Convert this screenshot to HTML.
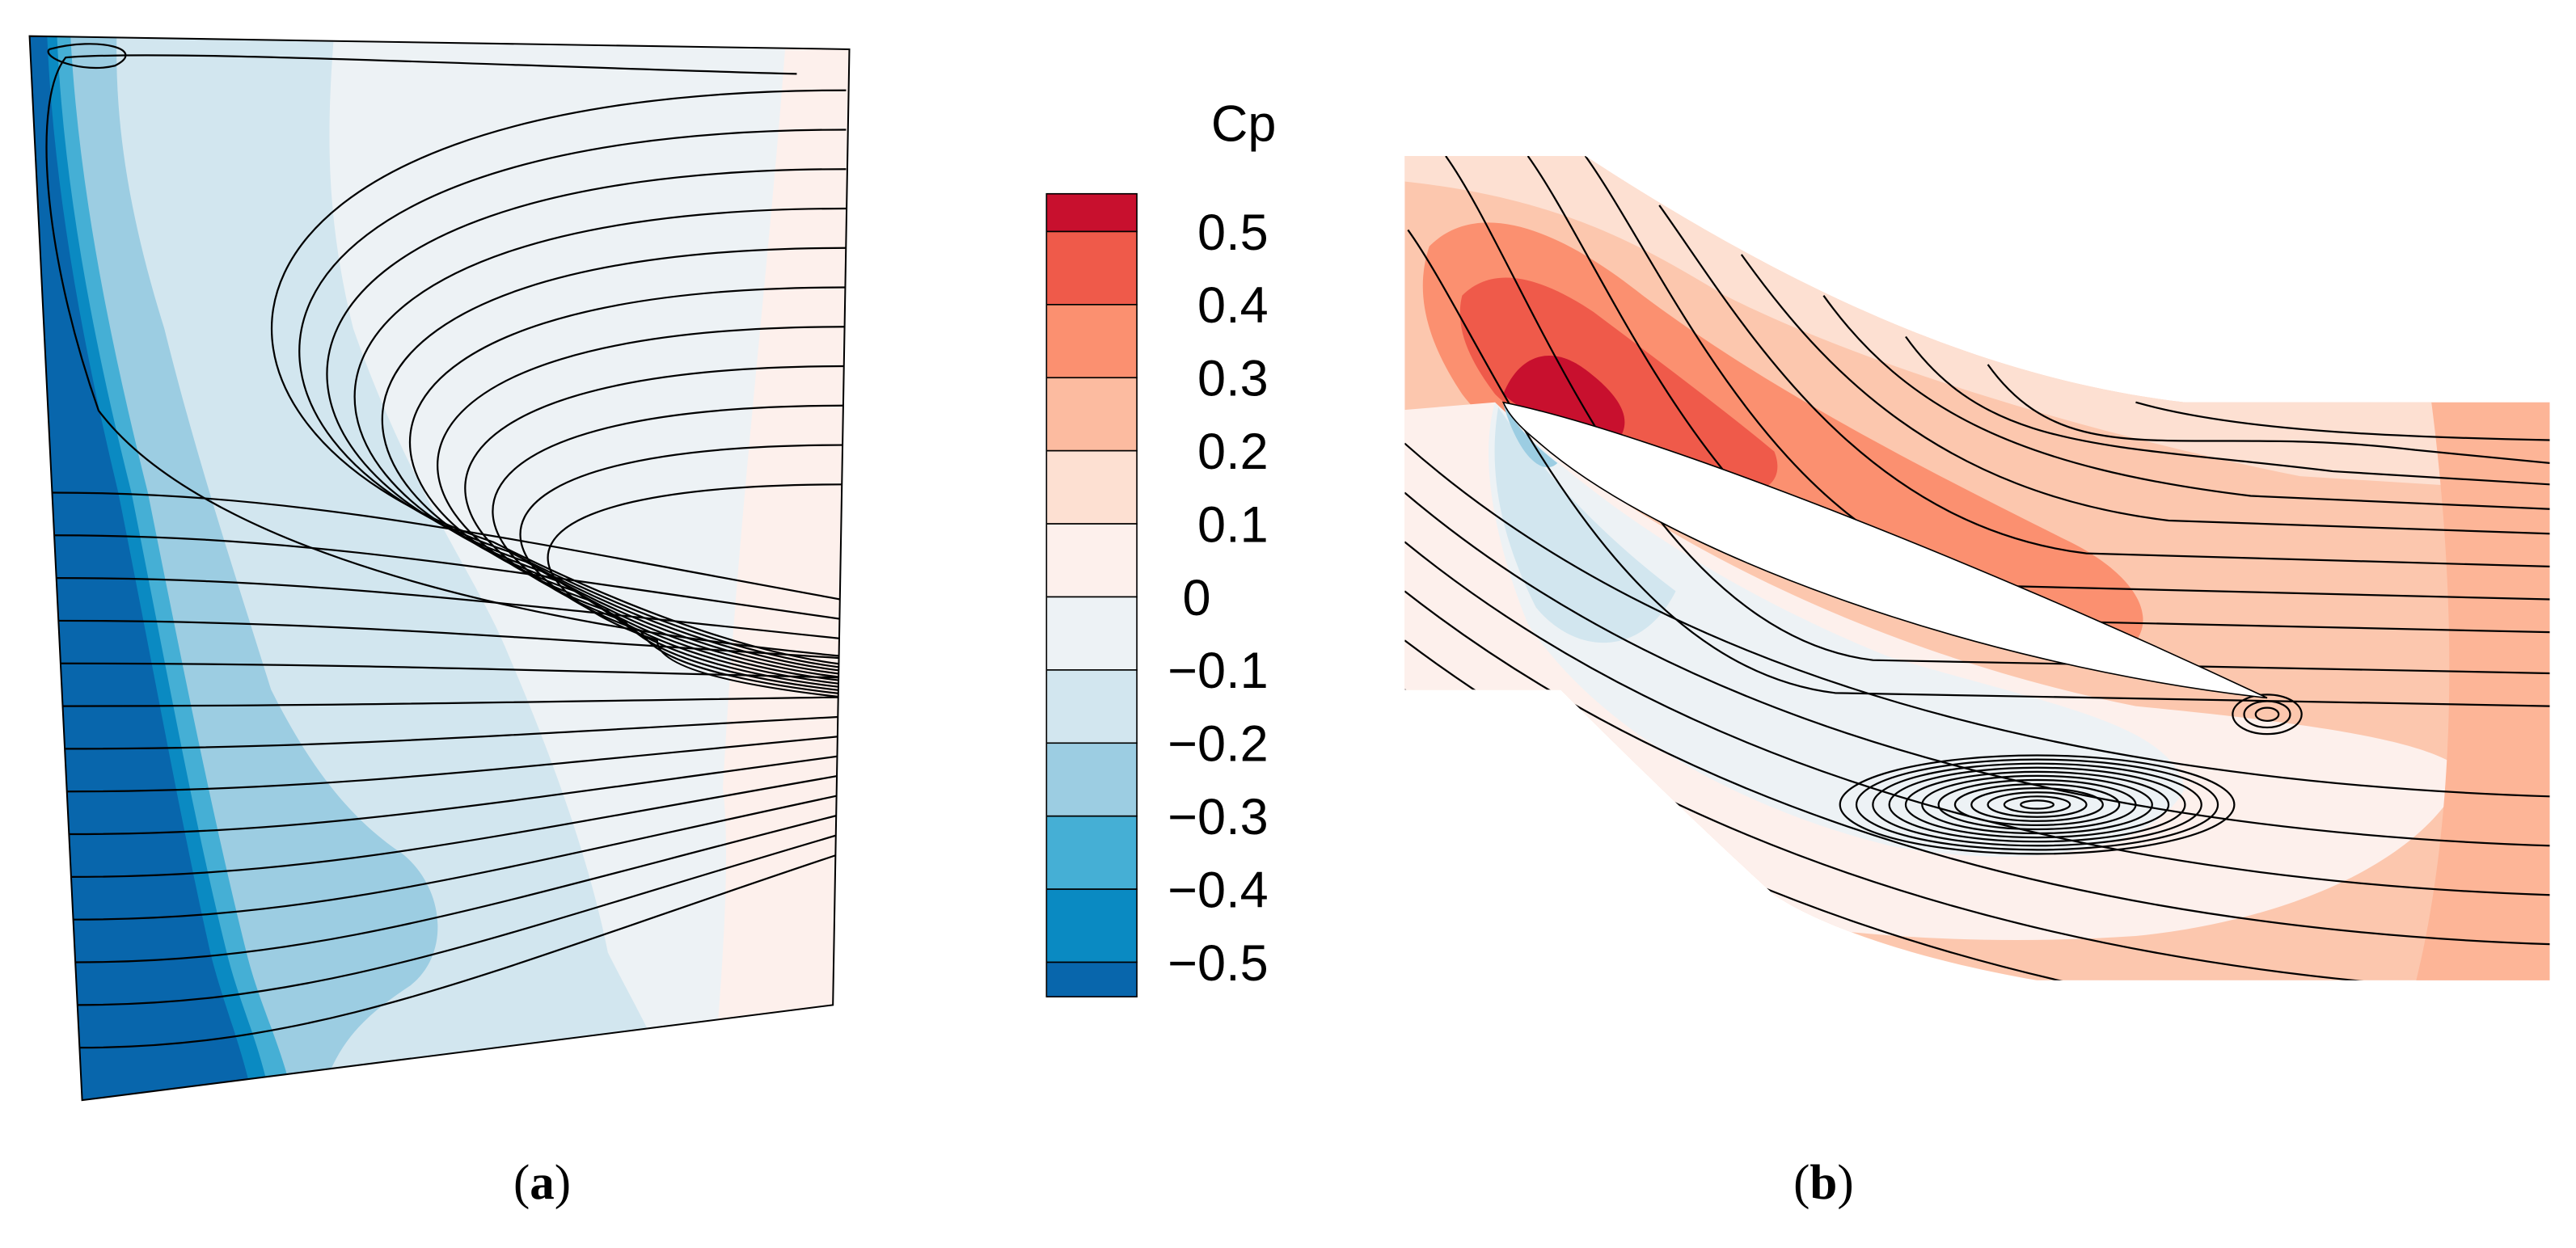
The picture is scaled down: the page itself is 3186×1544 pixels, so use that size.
<!DOCTYPE html>
<html><head><meta charset="utf-8"><style>
html,body{margin:0;padding:0;background:#fff;}
svg{display:block;}
</style></head><body>
<svg id="fig" width="3186" height="1544" viewBox="0 0 1568 760" preserveAspectRatio="none" xmlns="http://www.w3.org/2000/svg">
<defs>
<clipPath id="clipA"><polygon points="18,22 517,30 507,612 50,670"/></clipPath>
<clipPath id="clipB"><path d="M855,95 L965,95 C1080,170 1200,230 1330,245 L1552,245 L1552,597 L1240,597 C1170,585 1110,565 1080,545 C1020,490 970,440 950,420 L855,420 Z"/></clipPath>
</defs>

<g id="panelA" clip-path="url(#clipA)">
<rect x="0" y="0" width="530" height="700" fill="#edf2f5"/>
<path d="M480,0 L530,0 L530,700 L430,700 C440,600 445,520 440,480 C450,300 470,150 480,0 Z" fill="#fdf0ec"/>
<path d="M0,0 L205,0 C200,60 195,120 215,200 C250,300 290,350 310,400 C340,470 360,530 370,580 C390,620 410,650 420,700 L0,700 Z" fill="#d2e6ef"/>
<path d="M0,0 L72,0 C68,60 75,120 100,200 C120,280 140,340 165,420 C190,470 215,500 245,520 C270,540 275,580 250,600 C220,620 195,640 190,700 L0,700 Z" fill="#9ccde2"/>
<path d="M0,0 L42,0 C45,100 65,200 90,300 C110,400 130,500 150,580 C160,620 175,640 185,700 L0,700 Z" fill="#45afd5"/>
<path d="M0,0 L34,0 C36,100 55,200 80,300 C100,400 118,500 138,580 C148,620 162,640 170,700 L0,700 Z" fill="#0a8ac2"/>
<path d="M0,0 L28,0 C30,100 48,200 72,300 C92,400 110,500 128,580 C138,620 150,640 160,700 L0,700 Z" fill="#0866ac"/>
<g id="streamA" fill="none" stroke="#000" stroke-width="1.1"></g>
</g>
<polygon points="18,22 517,30 507,612 50,670" fill="none" stroke="#000" stroke-width="1"/>

<g id="panelB" clip-path="url(#clipB)">
<rect x="850" y="90" width="710" height="520" fill="#fcc7ae"/>
<path d="M850,90 L1000,90 C1100,160 1250,215 1350,235 L1560,235 L1560,300 L1400,290 C1300,270 1150,230 1050,180 C1000,150 950,120 850,110 Z" fill="#fde0d2"/>
<path d="M870,150 C900,120 950,140 1000,180 C1080,240 1180,290 1260,330 C1300,350 1320,380 1290,400 C1230,390 1150,360 1060,320 C980,290 920,280 890,240 C870,210 860,180 870,150 Z" fill="#fb9070"/>
<path d="M890,180 C910,160 940,170 970,190 C1010,220 1050,250 1080,275 C1090,300 1060,310 1020,290 C970,270 930,260 910,240 C895,220 885,200 890,180 Z" fill="#ef5a4a"/>
<path d="M915,240 C925,215 945,210 965,225 C985,240 995,255 985,268 C965,265 935,258 915,240 Z" fill="#c8102e"/>
<path d="M850,250 L910,245 C1000,330 1150,400 1300,430 C1400,440 1480,450 1500,470 C1480,520 1400,560 1300,570 C1150,580 1000,560 850,500 Z" fill="#fdf0ec"/>
<path d="M910,245 C960,300 1050,360 1150,400 C1250,430 1320,440 1330,480 C1310,520 1230,530 1150,515 C1050,490 970,440 930,380 C910,330 900,280 910,245 Z" fill="#edf2f5"/>
<path d="M912,248 C940,290 980,330 1020,360 C1000,400 960,400 935,370 C915,330 905,290 912,248 Z" fill="#d2e6ef"/>
<path d="M915,246 C925,262 935,272 948,282 C940,290 925,280 915,246 Z" fill="#9ccde2"/>
<path d="M1480,245 L1560,245 L1560,600 L1470,600 C1490,520 1500,400 1480,245 Z" fill="#fdb597"/>
<g id="streamB" fill="none" stroke="#000" stroke-width="1.1"></g>
<path d="M915,245 C1000,262 1200,340 1380,425 C1200,405 1010,335 935,268 C925,260 918,252 915,245 Z" fill="#fff" stroke="#000" stroke-width="0.8"/>
</g>

<g id="legend">
<text x="757" y="86" font-family="Liberation Sans, sans-serif" font-size="31" text-anchor="middle">Cp</text>
</g>

<text x="330" y="730" font-family="Liberation Serif, serif" font-size="30" text-anchor="middle">(<tspan font-weight="bold">a</tspan>)</text>
<text x="1110" y="730" font-family="Liberation Serif, serif" font-size="30" text-anchor="middle">(<tspan font-weight="bold">b</tspan>)</text>
</svg>
<script>
const levels = ["0.5","0.4","0.3","0.2","0.1","0","\u22120.1","\u22120.2","\u22120.3","\u22120.4","\u22120.5"];
const levelColors = ["#c8102e","#ef5a4a","#fb9070","#fcbba0","#fde0d2","#fdf0ec","#edf2f5","#d2e6ef","#9ccde2","#45afd5","#0a8ac2","#0866ac"];
const NS="http://www.w3.org/2000/svg";
const leg=document.getElementById('legend');
const top0=118, cellH=44.5, firstH=23, bx=637, bw=55;
function yBoundary(i){return top0+firstH+i*cellH;}
for(let i=0;i<levelColors.length;i++){
  const y0 = i===0?top0:yBoundary(i-1);
  const y1 = i===levelColors.length-1?607:yBoundary(i);
  const r=document.createElementNS(NS,'rect');
  r.setAttribute('x',bx);r.setAttribute('y',y0);r.setAttribute('width',bw);r.setAttribute('height',y1-y0);
  r.setAttribute('fill',levelColors[i]);r.setAttribute('stroke','#000');r.setAttribute('stroke-width','0.8');
  
  
  leg.appendChild(r);
}
for(let i=0;i<levels.length;i++){
  const t=document.createElementNS(NS,'text');
  t.setAttribute('x',772);t.setAttribute('y',yBoundary(i)+11);
  t.setAttribute('text-anchor','end');
  t.setAttribute('font-family','Liberation Sans, sans-serif');t.setAttribute('font-size','31');
  t.textContent=levels[i];
  if(levels[i]==="0") t.setAttribute('x',737);
  
  
  leg.appendChild(t);
}
function addPath(g,d){
  const p=document.createElementNS(NS,'path');
  p.setAttribute('d',d);
  
  
  g.appendChild(p);
}
const sa=document.getElementById('streamA');
for(let k=0;k<14;k++){
  const y=300+k*26, xl=18+(y-22)*32/648;
  const ye=420+(y-420)*0.45;
  addPath(sa,`M${xl},${y} C${xl+150},${y} ${300},${y+(ye-y)*0.4} 517,${ye}`);
}
for(let k=0;k<11;k++){
  const y=55+k*24;
  addPath(sa,`M515,${y} C${100+k*18},${y} ${90+k*22},${260+k*10} ${300+k*10},${330+k*6} C${400},${380+k*3} 470,${400+k*2} 517,${405+k*2}`);
}
addPath(sa,"M485,45 C300,40 100,30 40,35 C20,60 25,150 60,250 C120,330 300,380 517,400");
addPath(sa,"M30,30 C60,22 90,30 70,40 C50,45 25,35 30,30");
const sb=document.getElementById('streamB');
const bStartX=[857,880,930,965,1010,1060,1110,1160,1210];
const bStartY=[140,95,95,95,125,155,180,205,222];
const bEndY=[430,410,385,365,345,325,310,295,282];
for(let k=0;k<bStartX.length;k++){
  const sx=bStartX[k], sy=bStartY[k], ey=bEndY[k];
  addPath(sb,`M${sx},${sy} C${sx+50},${sy+70} ${sx+120},${ey-25} ${sx+260},${ey-8} L1552,${ey}`);
}
addPath(sb,"M1300,245 C1360,262 1450,266 1552,268");
for(let k=0;k<10;k++){
  const y=270+k*30;
  addPath(sb,`M855,${y} Q${1080+k*10},${y+200} 1552,${y+215}`);
}
for(let k=1;k<=12;k++){
  const e=document.createElementNS(NS,'ellipse');
  e.setAttribute('cx',1240);e.setAttribute('cy',490);e.setAttribute('rx',k*10);e.setAttribute('ry',k*2.5);
  
  
  sb.appendChild(e);
}
for(let k=1;k<=3;k++){
  const e=document.createElementNS(NS,'ellipse');
  e.setAttribute('cx',1380);e.setAttribute('cy',435);e.setAttribute('rx',k*7);e.setAttribute('ry',k*4);
  
  
  sb.appendChild(e);
}
</script>
</body></html>
